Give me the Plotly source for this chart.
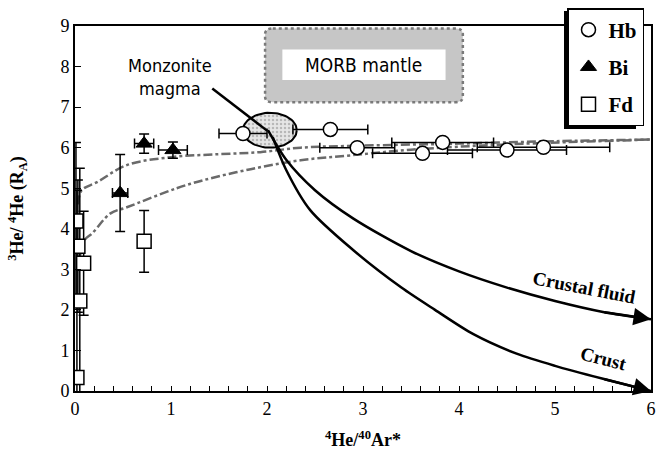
import numpy as np
import plotly.graph_objects as go

# ---------------- data ----------------
hb_x = [1.75, 2.66, 2.94, 3.62, 3.83, 4.50, 4.88]
hb_y = [6.35, 6.45, 6.00, 5.86, 6.13, 5.94, 6.01]
hb_xerr = [0.25, 0.39, 0.39, 0.52, 0.53, 0.62, 0.69]

bi_x = [0.47, 0.72, 1.02]
bi_y = [4.88, 6.10, 5.94]
bi_xerr = [0.08, 0.10, 0.15]
bi_yerr = [0.95, 0.24, 0.20]

fd_x = [0.01, 0.03, 0.09, 0.05, 0.02, 0.72]
fd_y = [4.19, 3.57, 3.15, 2.22, 0.33, 3.69]
fd_xerr = [0.02, 0.02, 0.02, 0.02, 0.02, 0.04]
fd_yerr = [1.94, 1.63, 1.28, 3.27, 4.62, 0.76]

mix_up_x = [0.03, 0.07, 0.23, 0.54, 1.02, 1.50, 1.93, 2.35, 3.00, 4.00, 5.00, 6.00]
mix_up_y = [4.60, 4.95, 5.15, 5.57, 5.77, 5.84, 5.89, 6.00, 6.05, 6.10, 6.16, 6.20]

mix_lo_x = [0.05, 0.10, 0.18, 0.37, 0.54, 1.06, 1.34, 1.83, 2.35, 2.87, 3.50, 4.50, 6.00]
mix_lo_y = [3.30, 3.72, 3.89, 4.38, 4.53, 5.00, 5.20, 5.47, 5.69, 5.81, 5.95, 6.08, 6.20]

fluid_x = [2.01, 2.20, 2.50, 2.90, 3.50, 4.00, 4.50, 5.00, 5.50, 6.00]
fluid_y = [6.43, 5.70, 4.95, 4.25, 3.45, 2.95, 2.55, 2.22, 1.95, 1.77]

crust_x = [2.06, 2.20, 2.45, 2.90, 3.40, 3.75, 4.15, 4.60, 5.00, 5.50, 6.00]
crust_y = [6.26, 5.45, 4.46, 3.47, 2.55, 2.00, 1.40, 0.92, 0.62, 0.30, 0.00]

magma_center = (2.03, 6.43)
magma_radius = (0.28, 0.43)

x_ticks = [0, 1, 2, 3, 4, 5, 6]
y_ticks = [0, 1, 2, 3, 4, 5, 6, 7, 8, 9]

SERIF = "Liberation Serif, Times New Roman, serif"
NARROW = "Liberation Sans Narrow, Arial Narrow, DejaVu Sans Condensed, sans-serif"

fig = go.Figure()

# mixing curves (dashed gray)
for xs, ys in [(mix_up_x, mix_up_y), (mix_lo_x, mix_lo_y)]:
    fig.add_trace(go.Scatter(x=xs, y=ys, mode="lines", showlegend=False,
                             line=dict(color="#6a6a6a", width=2.5, dash="dashdot", shape="spline"),
                             hoverinfo="skip"))

# magma ellipse
t = np.linspace(0, 2 * np.pi, 80)
fig.add_trace(go.Scatter(x=magma_center[0] + magma_radius[0] * np.cos(t),
                         y=magma_center[1] + magma_radius[1] * np.sin(t),
                         mode="lines", fill="toself", showlegend=False,
                         fillcolor="#dcdcdc",
                         fillpattern=dict(shape=".", fgcolor="#8a8a8a", bgcolor="#e6e6e6", size=4, solidity=0.3),
                         line=dict(color="black", width=2), hoverinfo="skip"))

# crustal curves
for xs, ys in [(fluid_x, fluid_y), (crust_x, crust_y)]:
    fig.add_trace(go.Scatter(x=xs, y=ys, mode="lines", showlegend=False,
                             line=dict(color="black", width=2.5, shape="spline", smoothing=0.8),
                             cliponaxis=False, hoverinfo="skip"))

err_style = dict(color="black", thickness=1.5, width=5)

fig.add_trace(go.Scatter(x=hb_x, y=hb_y, mode="markers", name="Hb", legendgroup="hb",
                         error_x=dict(type="data", array=hb_xerr, **err_style),
                         marker=dict(symbol="circle", size=14, color="white",
                                     line=dict(color="black", width=1.5))))
fig.add_trace(go.Scatter(x=bi_x, y=bi_y, mode="markers", name="Bi", legendgroup="bi",
                         error_x=dict(type="data", array=bi_xerr, **err_style),
                         error_y=dict(type="data", array=bi_yerr, **err_style),
                         marker=dict(symbol="triangle-up", size=14, color="black",
                                     line=dict(color="black", width=1))))
fig.add_trace(go.Scatter(x=fd_x, y=fd_y, mode="markers", name="Fd", legendgroup="fd",
                         error_x=dict(type="data", array=fd_xerr, **err_style),
                         error_y=dict(type="data", array=fd_yerr, **err_style),
                         marker=dict(symbol="square", size=14, color="white",
                                     line=dict(color="black", width=1.5))))

shapes = []
# MORB mantle box
shapes.append(dict(type="path", xref="x", yref="y", layer="below",
                   path="M 2.06 8.94 L 3.96 8.94 Q 4.04 8.94 4.04 8.80 L 4.04 7.26 Q 4.04 7.12 3.96 7.12 "
                        "L 2.06 7.12 Q 1.98 7.12 1.98 7.26 L 1.98 8.80 Q 1.98 8.94 2.06 8.94 Z",
                   fillcolor="#c6c6c6", line=dict(color="#7a7a7a", width=2.5, dash="dot")))
shapes.append(dict(type="rect", xref="x", yref="y", layer="below",
                   x0=2.16, x1=3.86, y0=7.67, y1=8.42, fillcolor="white", line=dict(width=0)))
# leader line from the Monzonite label to the ellipse
shapes.append(dict(type="line", xref="x", yref="y", x0=1.43, y0=7.46, x1=2.0, y1=6.42,
                   line=dict(color="black", width=2.5)))
# legend shadow (pixels -> paper: x=(px-75)/576, y=(391-py)/365)
shapes.append(dict(type="rect", xref="paper", yref="paper",
                   x0=(564 - 75) / 576, x1=(636 - 75) / 576,
                   y0=(391 - 129) / 365, y1=(391 - 11) / 365,
                   fillcolor="black", line=dict(width=0), layer="above"))

annotations = [
    dict(x=3.0, y=8.05, xref="x", yref="y", text="MORB mantle", showarrow=False,
         font=dict(family=NARROW, size=19, color="black")),
    dict(x=0.99, y=7.75, xref="x", yref="y", text="Monzonite<br>magma", showarrow=False,
         font=dict(family=NARROW, size=18, color="black")),
    dict(x=5.3, y=2.55, xref="x", yref="y", text="<b>Crustal fluid</b>", showarrow=False,
         textangle=11, font=dict(family=SERIF, size=19, color="black")),
    dict(x=5.5, y=0.8, xref="x", yref="y", text="<b>Crust</b>", showarrow=False,
         textangle=14, font=dict(family=SERIF, size=19, color="black")),
]
# arrowheads at the ends of the crustal curves
for xs, ys in [(fluid_x, fluid_y), (crust_x, crust_y)]:
    annotations.append(dict(x=xs[-1], y=ys[-1], ax=xs[-2], ay=ys[-2],
                            xref="x", yref="y", axref="x", ayref="y", text="",
                            showarrow=True, arrowhead=2, arrowsize=1.4, arrowwidth=2.5,
                            arrowcolor="black", standoff=0))

fig.update_layout(
    width=657, height=455,
    margin=dict(l=75, r=6, t=26, b=64, autoexpand=False),
    paper_bgcolor="white", plot_bgcolor="white",
    shapes=shapes, annotations=annotations,
    font=dict(family=SERIF, size=17, color="black"),
    legend=dict(x=(567 - 75) / 576, y=(391 - 8) / 365, xanchor="left", yanchor="top",
                bgcolor="white", bordercolor="black", borderwidth=1.5,
                font=dict(family=SERIF, size=21, color="black", weight="bold"),
                tracegroupgap=7, itemwidth=30),
    xaxis=dict(range=[0, 6], tickvals=x_ticks, ticks="inside", ticklen=5, tickwidth=1.2,
               tickcolor="black", showline=True, linecolor="black", linewidth=1.8, mirror=True,
               showgrid=False, zeroline=False, automargin=False,
               minor=dict(dtick=0.2, ticks="inside", ticklen=5, tickwidth=1.2, tickcolor="black"),
               tickfont=dict(family=SERIF, size=18),
               title=dict(text="<b><sup>4</sup>He/<sup>40</sup>Ar*</b>", standoff=16,
                          font=dict(family=SERIF, size=18))),
    yaxis=dict(range=[0, 9], tickvals=y_ticks, ticks="inside", ticklen=6, tickwidth=1.2,
               tickcolor="black", showline=True, linecolor="black", linewidth=1.8, mirror=True,
               showgrid=False, zeroline=False, automargin=False,
               tickfont=dict(family=SERIF, size=18),
               title=dict(text="<b><sup>3</sup>He/ <sup>4</sup>He (R<sub>A</sub>)</b>", standoff=32,
                          font=dict(family=SERIF, size=18))),
)

fig.write_html("out.html", config={"displayModeBar": False},
               post_script="document.body.style.margin='0';document.body.style.overflow='hidden';")
